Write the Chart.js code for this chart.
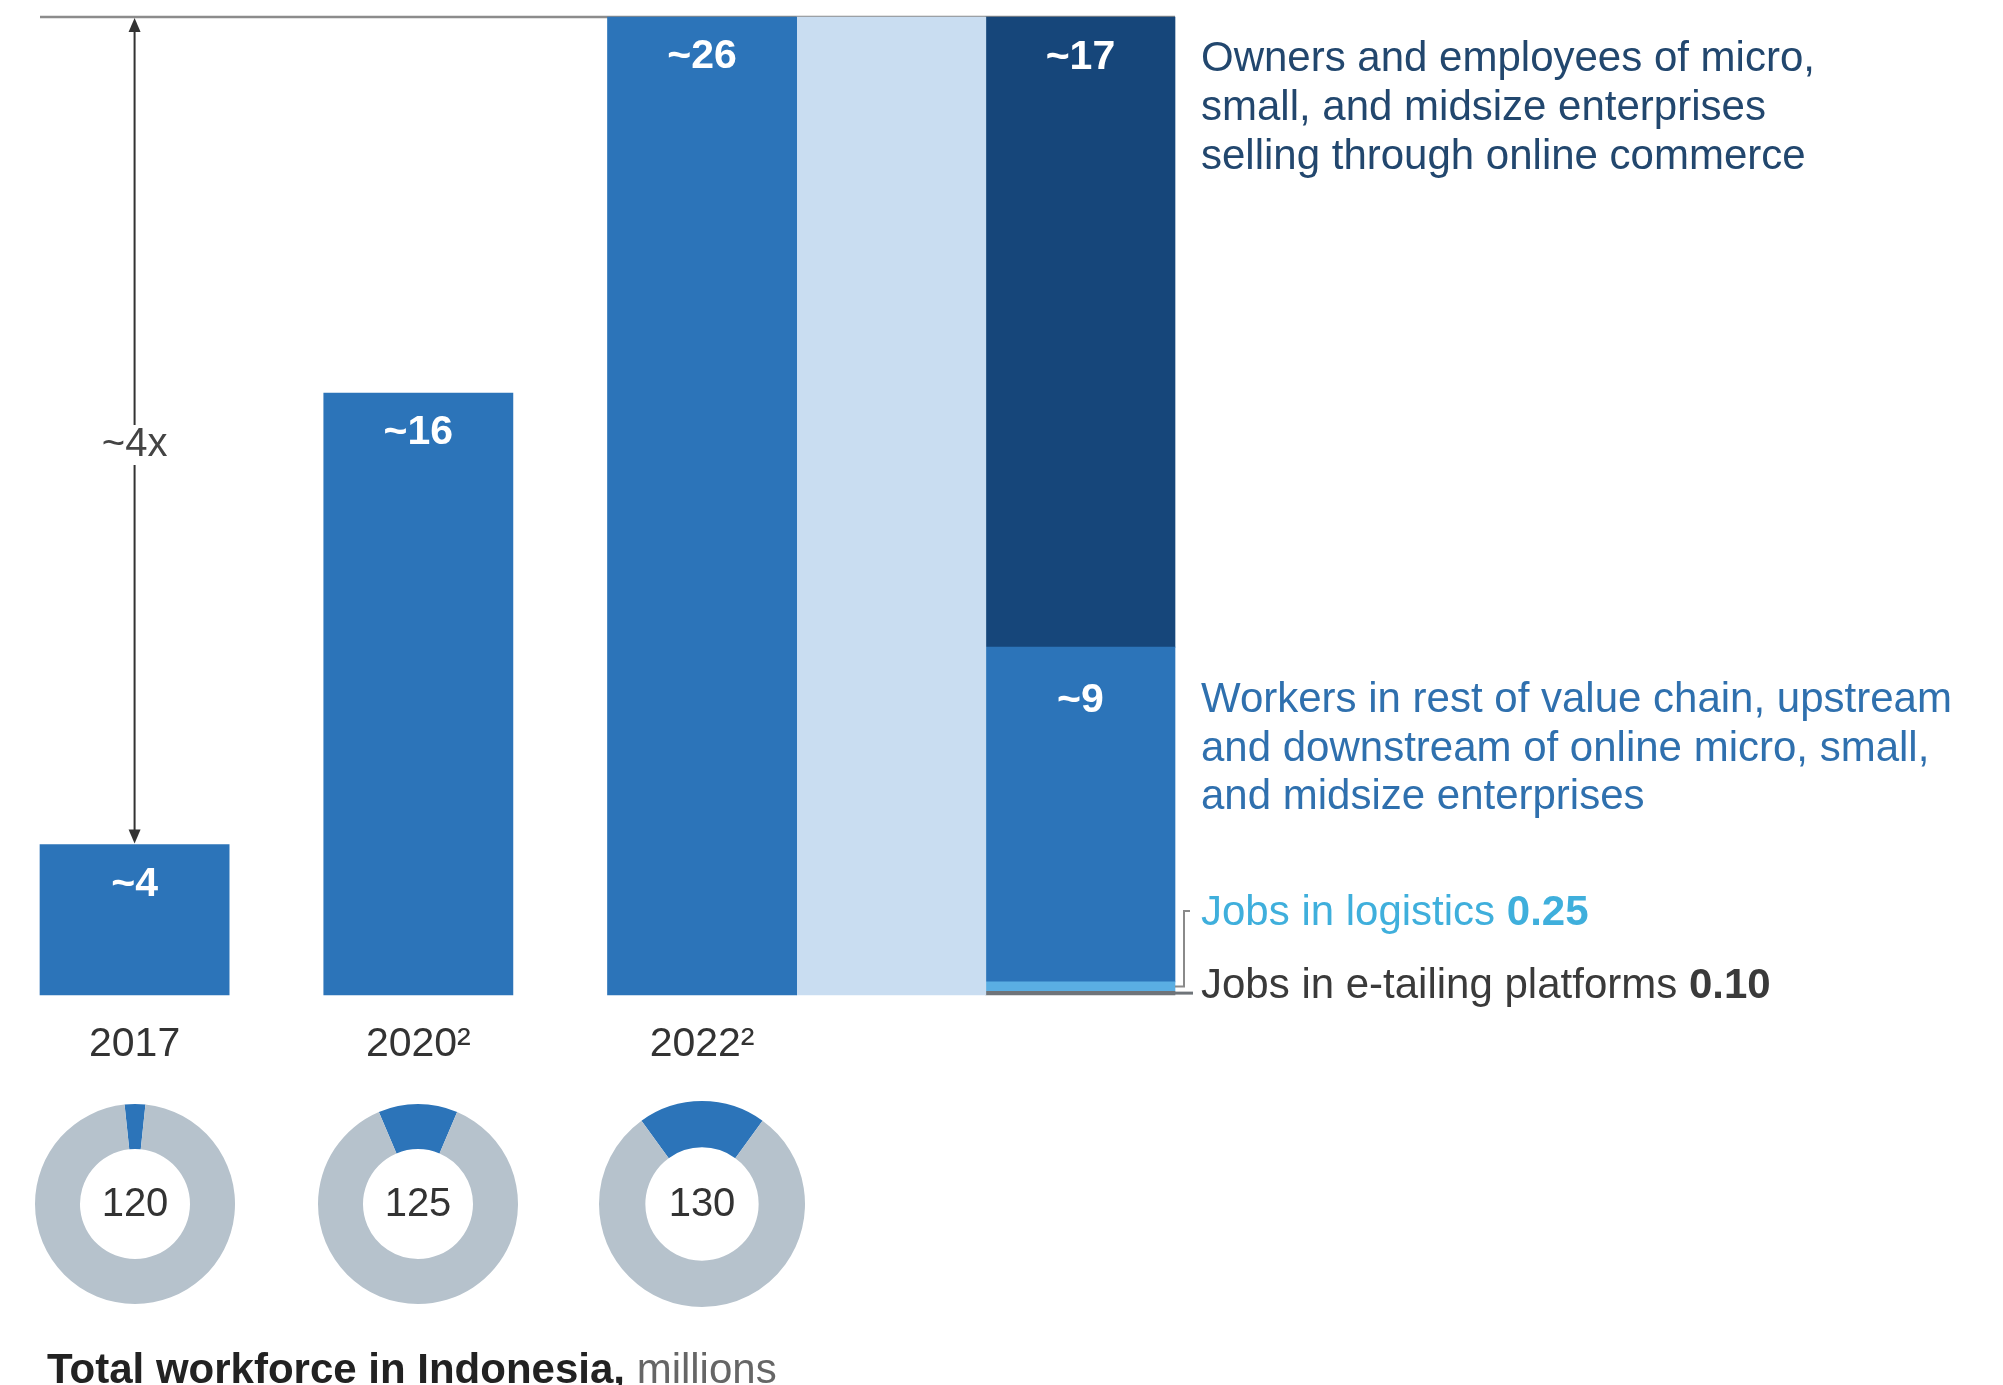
<!DOCTYPE html>
<html>
<head>
<meta charset="utf-8">
<script src="https://cdn.jsdelivr.net/npm/chart.js@4.4.1/dist/chart.umd.min.js"></script>
<style>
  html, body { margin: 0; padding: 0; background: #ffffff; overflow: hidden; }
  #wrap { position: relative; width: 2003px; height: 1385px; }
  #main { position: absolute; left: 0; top: 0; }
  .donut { position: absolute; }
</style>
</head>
<body>
<div id="wrap">
  <canvas id="main" width="2003" height="1385"></canvas>
  <canvas id="d0" class="donut"></canvas>
  <canvas id="d1" class="donut"></canvas>
  <canvas id="d2" class="donut"></canvas>
</div>
<script>
// ---------- data ----------
const categories = ['2017', '2020²', '2022²'];
const onlineJobs = [4, 16, 26];                 // millions
const onlineJobLabels = ['~4', '~16', '~26'];
const totalWorkforce = [120, 125, 130];         // millions
const breakdown2022 = [0.10, 0.25, 8.9, 16.75]; // e-tailing, logistics, value chain, owners
const breakdownLabels = ['0.10', '0.25', '~9', '~17'];
const growthLabel = '~4x';
const ownersText = ['Owners and employees of micro,', 'small, and midsize enterprises', 'selling through online commerce'];
const workersText = ['Workers in rest of value chain, upstream', 'and downstream of online micro, small,', 'and midsize enterprises'];
const logisticsText = 'Jobs in logistics ';
const etailText = 'Jobs in e-tailing platforms ';
const footTitleBold = 'Total workforce in Indonesia,';
const footTitleUnit = ' millions';

// ---------- style ----------
const FONT = '"Liberation Sans", Arial, Helvetica, sans-serif';
const BLUE = '#2c74b9';
const NAVY = '#16467a';
const LIGHT = '#c9ddf1';
const CYAN = '#5aaee3';
const GREYBAR = '#6f7479';
const DONUT_GREY = '#b6c2cc';

// slot positions on the linear x axis (layout only)
const yearSlots = [0, 1.5, 3];
const connectorSlot = 4;
const stackSlot = 5;
const lastTotal = onlineJobs[onlineJobs.length - 1];

const datasets = [
  { label: 'online', data: yearSlots.map((s, i) => ({ x: s, y: onlineJobs[i] })), backgroundColor: BLUE },
  { label: 'connector', data: [{ x: connectorSlot, y: lastTotal }], backgroundColor: LIGHT },
  { label: 'etail', data: [{ x: stackSlot, y: breakdown2022[0] }], backgroundColor: GREYBAR },
  { label: 'logistics', data: [{ x: stackSlot, y: breakdown2022[1] }], backgroundColor: CYAN },
  { label: 'valuechain', data: [{ x: stackSlot, y: breakdown2022[2] }], backgroundColor: BLUE },
  { label: 'owners', data: [{ x: stackSlot, y: breakdown2022[3] }], backgroundColor: NAVY }
].map(d => Object.assign(d, { borderWidth: 0, categoryPercentage: 1, barPercentage: 1, clip: false }));

const decorPlugin = {
  id: 'decor',
  beforeDatasetsDraw(chart) {
    const { ctx, chartArea, scales } = chart;
    const yTop = scales.y.getPixelForValue(lastTotal);
    ctx.save();
    ctx.strokeStyle = '#8c8c8c';
    ctx.lineWidth = 2.5;
    ctx.beginPath();
    ctx.moveTo(chartArea.left, yTop);
    ctx.lineTo(chartArea.right, yTop);
    ctx.stroke();
    ctx.restore();
  },
  afterDatasetsDraw(chart) {
    const { ctx, scales } = chart;
    const xs = scales.x, ys = scales.y;
    ctx.save();
    // bar value labels
    ctx.fillStyle = '#ffffff';
    ctx.font = 'bold 41px ' + FONT;
    ctx.textAlign = 'center';
    ctx.textBaseline = 'alphabetic';
    chart.getDatasetMeta(0).data.forEach((el, i) => ctx.fillText(onlineJobLabels[i], el.x, el.y + 51));
    const vc = chart.getDatasetMeta(4).data[0];
    const ow = chart.getDatasetMeta(5).data[0];
    ctx.fillText(breakdownLabels[2], vc.x, vc.y + 65);
    ctx.fillText(breakdownLabels[3], ow.x, ow.y + 52);

    // growth arrow
    const ax = xs.getPixelForValue(yearSlots[0]);
    const aTop = ys.getPixelForValue(onlineJobs[onlineJobs.length - 1]);
    const aBot = ys.getPixelForValue(onlineJobs[0]);
    ctx.strokeStyle = '#333333';
    ctx.fillStyle = '#333333';
    ctx.lineWidth = 2;
    ctx.beginPath();
    ctx.moveTo(ax, aTop + 10);
    ctx.lineTo(ax, aBot - 10);
    ctx.stroke();
    ctx.beginPath();
    ctx.moveTo(ax, aTop + 1); ctx.lineTo(ax - 6, aTop + 15); ctx.lineTo(ax + 6, aTop + 15); ctx.closePath(); ctx.fill();
    ctx.beginPath();
    ctx.moveTo(ax, aBot - 1); ctx.lineTo(ax - 6, aBot - 15); ctx.lineTo(ax + 6, aBot - 15); ctx.closePath(); ctx.fill();
    const gy = 445;
    ctx.fillStyle = '#ffffff';
    ctx.fillRect(ax - 8, gy - 20, 16, 40);
    ctx.fillStyle = '#444444';
    ctx.font = '40px ' + FONT;
    ctx.textAlign = 'center';
    ctx.textBaseline = 'middle';
    ctx.fillText(growthLabel, ax, gy);

    // right-hand annotations
    const tx = ow.x + ow.width / 2 + 26;
    ctx.textAlign = 'left';
    ctx.textBaseline = 'alphabetic';
    ctx.font = '42px ' + FONT;
    ctx.fillStyle = '#22476e';
    ownersText.forEach((t, k) => ctx.fillText(t, tx, ow.y + 54 + k * 49));
    ctx.fillStyle = '#2f70ae';
    workersText.forEach((t, k) => ctx.fillText(t, tx, vc.y + 65 + k * 48.5));

    const base = ys.getPixelForValue(0);
    const logY = base - 70;
    ctx.fillStyle = '#3fafdc';
    ctx.font = '42px ' + FONT;
    ctx.fillText(logisticsText, tx, logY);
    let w = ctx.measureText(logisticsText).width;
    ctx.font = 'bold 42px ' + FONT;
    ctx.fillText(breakdownLabels[1], tx + w, logY);

    const etY = base + 3;
    ctx.fillStyle = '#3a3a3a';
    ctx.font = '42px ' + FONT;
    ctx.fillText(etailText, tx, etY);
    w = ctx.measureText(etailText).width;
    ctx.font = 'bold 42px ' + FONT;
    ctx.fillText(breakdownLabels[0], tx + w, etY);

    // bracket + connector
    const barRight = ow.x + ow.width / 2;
    const logPix = ys.getPixelForValue(breakdown2022[0] + breakdown2022[1] / 2);
    const etPix = ys.getPixelForValue(breakdown2022[0] / 2);
    ctx.strokeStyle = '#8a8a8a';
    ctx.lineWidth = 2;
    ctx.beginPath();
    ctx.moveTo(barRight + 15, logY - 14);
    ctx.lineTo(barRight + 9, logY - 14);
    ctx.lineTo(barRight + 9, logPix);
    ctx.lineTo(barRight, logPix);
    ctx.stroke();
    ctx.strokeStyle = GREYBAR;
    ctx.lineWidth = 3;
    ctx.beginPath();
    ctx.moveTo(barRight, etPix);
    ctx.lineTo(barRight + 18, etPix);
    ctx.stroke();

    // footer title
    ctx.textAlign = 'left';
    ctx.textBaseline = 'alphabetic';
    ctx.font = 'bold 42px ' + FONT;
    ctx.fillStyle = '#222222';
    ctx.fillText(footTitleBold, 47, 1383);
    w = ctx.measureText(footTitleBold).width;
    ctx.font = '42px ' + FONT;
    ctx.fillStyle = '#666666';
    ctx.fillText(footTitleUnit, 47 + w, 1383);
    ctx.restore();
  }
};

const main = new Chart(document.getElementById('main'), {
  type: 'bar',
  data: { datasets },
  options: {
    responsive: false,
    animation: false,
    events: [],
    layout: { padding: { left: 40, right: 828, top: 17, bottom: 310 } },
    plugins: { legend: { display: false }, tooltip: { enabled: false } },
    scales: {
      x: {
        type: 'linear', min: -0.5, max: 5.5, offset: false, stacked: true,
        grid: { display: false, drawTicks: false, offset: false },
        border: { display: false },
        afterBuildTicks: s => { s.ticks = yearSlots.map(v => ({ value: v })); },
        afterFit: s => { s.height = 80; },
        ticks: {
          autoSkip: false, maxRotation: 0, padding: 25, color: '#333333',
          font: { family: FONT, size: 41 },
          callback: (v, i) => categories[i]
        }
      },
      y: { display: false, stacked: true, min: 0, max: lastTotal }
    }
  },
  plugins: [decorPlugin]
});

// ---------- donuts ----------
const donutRadius = [100, 100, 103];
totalWorkforce.forEach((tot, i) => {
  const cv = document.getElementById('d' + i);
  const size = donutRadius[i] * 2;
  cv.width = size; cv.height = size;
  const cx = main.scales.x.getPixelForValue(yearSlots[i]);
  const cy = 1204;
  cv.style.left = (cx - size / 2) + 'px';
  cv.style.top = (cy - size / 2) + 'px';
  new Chart(cv, {
    type: 'doughnut',
    data: { datasets: [{ data: [onlineJobs[i], tot - onlineJobs[i]], backgroundColor: [BLUE, DONUT_GREY], borderWidth: 0, hoverOffset: 0 }] },
    options: {
      responsive: false, animation: false, events: [],
      rotation: -180 * onlineJobs[i] / tot,
      cutout: '55%',
      layout: { padding: 0 },
      plugins: { legend: { display: false }, tooltip: { enabled: false } }
    },
    plugins: [{
      id: 'center' + i,
      afterDraw(c) {
        const { ctx, chartArea } = c;
        ctx.save();
        ctx.fillStyle = '#333333';
        ctx.font = '40px ' + FONT;
        ctx.textAlign = 'center';
        ctx.textBaseline = 'middle';
        ctx.fillText(String(tot), (chartArea.left + chartArea.right) / 2, (chartArea.top + chartArea.bottom) / 2 + 1);
        ctx.restore();
      }
    }]
  });
});
</script>
</body>
</html>
